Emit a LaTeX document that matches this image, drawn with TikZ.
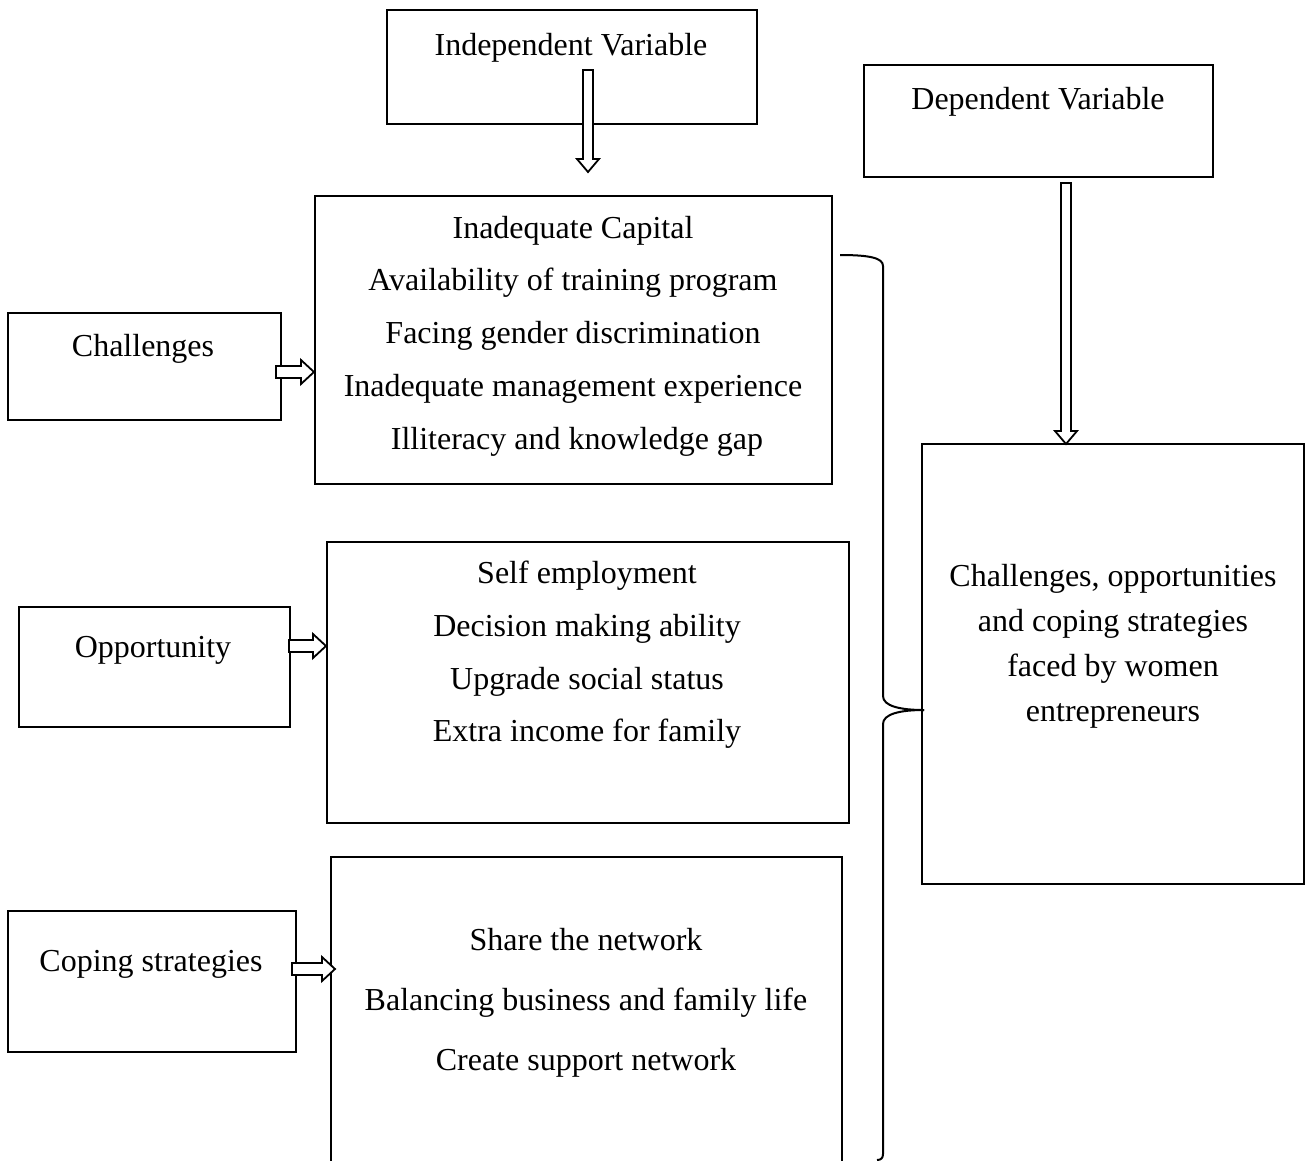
\documentclass[tikz,border=0pt]{standalone}
\usepackage{fontspec}
\setmainfont{Liberation Serif}
\usetikzlibrary{calc}
\tikzset{
  box/.style={draw,line width=2pt,inner sep=0pt},
  txt/.style={inner sep=0pt,font=\fontsize{32}{38}\selectfont,text height=22pt,text depth=7pt,yshift=-4pt},
  barrow/.style={draw,line width=1.8pt,fill=white,line join=miter},
  brace/.style={draw,line width=2pt}
}
\newcommand\harrow[2]{% horizontal block arrow from coordinate #1 to #2
  \path let \p1=(#1), \p2=(#2) in
   [barrow] (\x1,\y1+6pt) -- (\x2-13pt,\y1+6pt) -- (\x2-13pt,\y1+12pt) -- (\x2,\y1)
   -- (\x2-13pt,\y1-12pt) -- (\x2-13pt,\y1-6pt) -- (\x1,\y1-6pt) -- cycle;}
\newcommand\varrow[2]{% vertical block arrow downward from #1 to #2
  \path let \p1=(#1), \p2=(#2) in
   [barrow] (\x1-5pt,\y1) -- (\x1+5pt,\y1) -- (\x1+5pt,\y2+13pt) -- (\x1+11pt,\y2+13pt)
   -- (\x1,\y2) -- (\x1-11pt,\y2+13pt) -- (\x1-5pt,\y2+13pt) -- (\x1-5pt,\y1) -- cycle;}
\begin{document}
\begin{tikzpicture}[x=1pt,y=-1pt]
\useasboundingbox (0,0) rectangle (1310,1160);
% boxes
\node[box,minimum width=370pt,minimum height=114pt] (indep) at (572,67) {};
\node[box,minimum width=349pt,minimum height=112pt] (dep) at (1038.5,121) {};
\node[box,minimum width=517pt,minimum height=288pt] (chlist) at (573.5,340) {};
\node[box,minimum width=273pt,minimum height=107pt] (chal) at (144.5,366.5) {};
\node[box,minimum width=271pt,minimum height=120pt] (opp) at (154.5,667) {};
\node[box,minimum width=522pt,minimum height=281pt] (opplist) at (588,682.5) {};
\node[box,minimum width=288pt,minimum height=141pt] (cope) at (152,981.5) {};
\node[box,minimum width=511pt,minimum height=310pt] (copelist) at (586.5,1012) {};
\node[box,minimum width=382pt,minimum height=440pt] (result) at (1113,664) {};
% texts
\node[txt] (tindep) at (571,44) {Independent Variable};
\node[txt] (tdep) at (1038,98) {Dependent Variable};
\node[txt] (tchal) at (143,345) {Challenges};
\node[txt] (topp) at (153,646) {Opportunity};
\node[txt] (tcope) at (151,960) {Coping strategies};
\node[txt] (c1) at (573,227) {Inadequate Capital};
\node[txt] (c2) at (573,279) {Availability of training program};
\node[txt] (c3) at (573,332) {Facing gender discrimination};
\node[txt] (c4) at (573,385) {Inadequate management experience};
\node[txt] (c5) at (577,438) {Illiteracy and knowledge gap};
\node[txt] (o1) at (587,572) {Self employment};
\node[txt] (o2) at (587,625) {Decision making ability};
\node[txt] (o3) at (587,678) {Upgrade social status};
\node[txt] (o4) at (587,730) {Extra income for family};
\node[txt] (s1) at (586,939) {Share the network};
\node[txt] (s2) at (586,999) {Balancing business and family life};
\node[txt] (s3) at (586,1059) {Create support network};
\node[txt] (r1) at (1113,575) {Challenges, opportunities};
\node[txt] (r2) at (1113,620) {and coping strategies};
\node[txt] (r3) at (1113,665) {faced by women};
\node[txt] (r4) at (1113,710) {entrepreneurs};
% arrows
\coordinate (ia) at (588,70);
\coordinate (ib) at ($(chlist.north)+(14.5,-23)$);
\varrow{ia}{ib}
\coordinate (da) at (1066,183);
\coordinate (db) at (1066,444);
\varrow{da}{db}
\coordinate (cha) at ($(chal.east)+(-6,5.5)$);
\coordinate (chb) at (chlist.west |- cha);
\harrow{cha}{chb}
\coordinate (opa) at ($(opp.east)+(-2,-21)$);
\coordinate (opb) at (opplist.west |- opa);
\harrow{opa}{opb}
\coordinate (coa) at ($(cope.east)+(-5,-12.5)$);
\coordinate (cob) at ($(copelist.west |- coa)+(5,0)$);
\harrow{coa}{cob}
% brace
\coordinate (btop) at (840,255);
\coordinate (btip) at (result.west);
\coordinate (bbot) at (877,1160);
\draw[brace] (btop) .. controls (870,255) and (883,258) .. (883,266) -- (883,696)
  .. controls (883,706) and (900,710) .. ($(btip)+(3,46)$);
\draw[brace] ($(btip)+(3,46)$) .. controls (900,710) and (883,714) .. (883,724) -- (883,1154)
  .. controls (883,1158) and (881,1160) .. (bbot);
\end{tikzpicture}
\end{document}
